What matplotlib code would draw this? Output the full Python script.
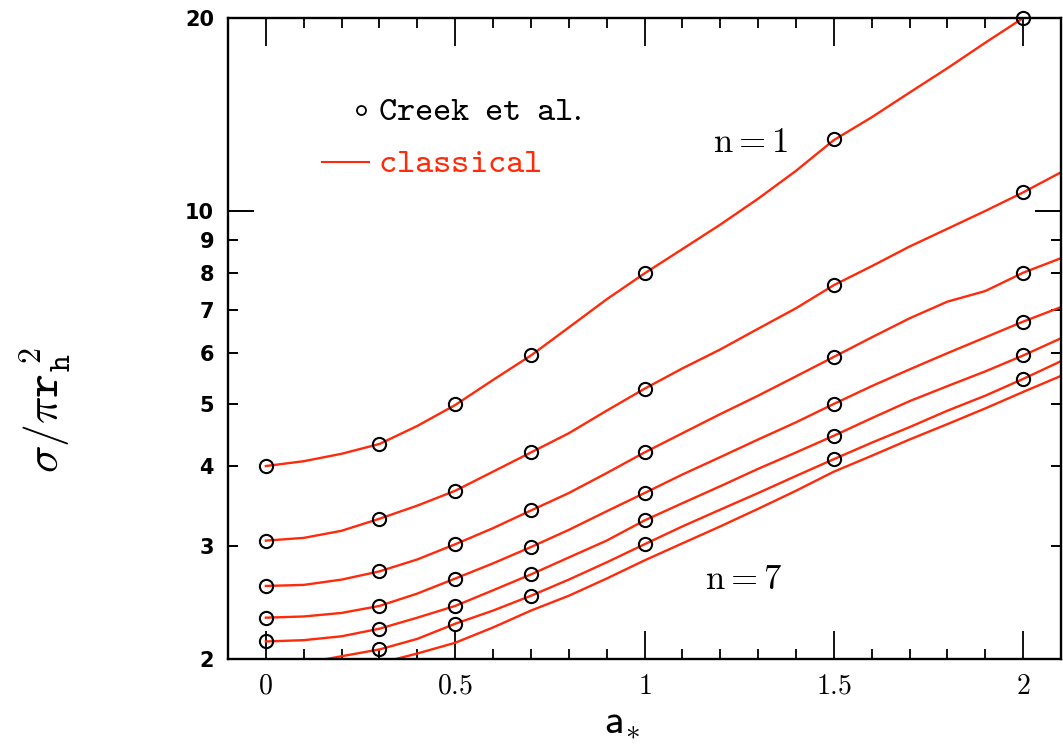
import numpy as np
import matplotlib
matplotlib.use("Agg")
import matplotlib.pyplot as plt
from matplotlib.ticker import FixedLocator, FixedFormatter, NullFormatter

plt.rcParams["mathtext.fontset"] = "cm"

# Spin parameter grid for the classical curves
a_grid = [0.0, 0.1, 0.2, 0.3, 0.4, 0.5, 0.6, 0.7, 0.8, 0.9, 1.0,
          1.1, 1.2, 1.3, 1.4, 1.5, 1.6, 1.7, 1.8, 1.9, 2.0, 2.1]

# Classical cross sections sigma/(pi r_h^2), one curve per n
classical_n1 = [4.00, 4.07, 4.18, 4.33, 4.62, 4.98, 5.45, 5.95, 6.58, 7.28, 7.99,
                8.72, 9.52, 10.45, 11.55, 12.9, 14.0, 15.3, 16.7, 18.3, 20.0, 21.8]
classical_n2 = [3.06, 3.09, 3.17, 3.31, 3.47, 3.66, 3.92, 4.20, 4.50, 4.88, 5.28,
                5.68, 6.08, 6.55, 7.05, 7.66, 8.20, 8.80, 9.38, 10.0, 10.69, 11.49]
classical_n3 = [2.60, 2.61, 2.66, 2.74, 2.86, 3.02, 3.20, 3.41, 3.63, 3.90, 4.20,
                4.50, 4.82, 5.15, 5.52, 5.92, 6.35, 6.80, 7.22, 7.50, 8.01, 8.44]
classical_n4 = [2.32, 2.33, 2.36, 2.42, 2.53, 2.67, 2.82, 2.99, 3.18, 3.40, 3.63,
                3.88, 4.13, 4.40, 4.68, 5.00, 5.33, 5.66, 6.00, 6.35, 6.72, 7.08]
classical_n5 = [2.13, 2.14, 2.17, 2.23, 2.32, 2.42, 2.56, 2.71, 2.88, 3.06, 3.29,
                3.50, 3.72, 3.96, 4.20, 4.46, 4.75, 5.05, 5.33, 5.62, 5.95, 6.33]
classical_n6 = [1.95, 1.97, 2.02, 2.07, 2.15, 2.27, 2.38, 2.51, 2.66, 2.83, 3.02,
                3.22, 3.42, 3.63, 3.86, 4.10, 4.35, 4.60, 4.88, 5.15, 5.47, 5.83]
classical_n7 = [1.88, 1.89, 1.92, 1.97, 2.04, 2.12, 2.24, 2.38, 2.51, 2.67, 2.85,
                3.03, 3.22, 3.43, 3.66, 3.92, 4.15, 4.40, 4.65, 4.92, 5.22, 5.53]

# Creek et al. values at selected spins
a_creek = [0.0, 0.3, 0.5, 0.7, 1.0, 1.5, 2.0]
creek_n1 = [4.00, 4.33, 5.00, 5.95, 7.99, 12.95, 20.0]
creek_n2 = [3.06, 3.31, 3.66, 4.20, 5.28, 7.66, 10.69]
creek_n3 = [2.60, 2.74, 3.02, 3.41, 4.20, 5.92, 8.01]
creek_n4 = [2.32, 2.42, 2.67, 2.99, 3.63, 5.00, 6.72]
creek_n5 = [2.13, 2.23, 2.42, 2.71, 3.29, 4.46, 5.95]
creek_n6 = [np.nan, 2.07, 2.27, 2.51, 3.02, 4.10, 5.47]

# Axis ticks
x_major = [0, 0.5, 1, 1.5, 2]
x_major_labels = ["$0$", "$0.5$", "$1$", "$1.5$", "$2$"]
x_minor = [-0.1, 0.1, 0.2, 0.3, 0.4, 0.6, 0.7, 0.8, 0.9, 1.1, 1.2, 1.3, 1.4,
           1.6, 1.7, 1.8, 1.9, 2.1]
y_major = [10]
y_major_labels = ["10"]
y_minor = [2, 3, 4, 5, 6, 7, 8, 9, 20]
y_minor_labels = ["2", "3", "4", "5", "6", "7", "8", "9", "20"]

RED = "#ff2a0a"

fig = plt.figure(figsize=(10.63, 7.46), dpi=100)
ax = fig.add_axes([228 / 1063, 87 / 746, 833 / 1063, 641 / 746])

classical = [classical_n1, classical_n2, classical_n3, classical_n4,
             classical_n5, classical_n6, classical_n7]
for curve in classical:
    ax.plot(a_grid, curve, color=RED, lw=1.7, zorder=2)

creek = [creek_n1, creek_n2, creek_n3, creek_n4, creek_n5, creek_n6]
for pts in creek:
    ax.plot(a_creek, pts, linestyle="none", marker="o", ms=9.5, mew=1.5,
            mfc="none", mec="black", zorder=3, clip_on=False)

ax.set_yscale("log")
ax.set_xlim(-0.1, 2.1)
ax.set_ylim(2, 20)

ax.xaxis.set_major_locator(FixedLocator(x_major))
ax.xaxis.set_major_formatter(FixedFormatter(x_major_labels))
ax.xaxis.set_minor_locator(FixedLocator(x_minor))
ax.xaxis.set_minor_formatter(NullFormatter())

ax.yaxis.set_major_locator(FixedLocator(y_major))
ax.yaxis.set_major_formatter(FixedFormatter(y_major_labels))
ax.yaxis.set_minor_locator(FixedLocator(y_minor))
ax.yaxis.set_minor_formatter(FixedFormatter(y_minor_labels))

ax.tick_params(which="both", direction="in", top=True, right=True, color="black")
ax.tick_params(axis="x", which="major", length=20, width=1.3, labelsize=20, pad=9)
ax.tick_params(axis="x", which="minor", length=7, width=1.3)
ax.tick_params(axis="y", which="major", length=19, width=1.4, labelsize=15, pad=10)
ax.tick_params(axis="y", which="minor", length=7, width=1.4, labelsize=15, pad=10)
for lab in ax.get_yticklabels(which="both"):
    lab.set_family("DejaVu Sans")
    lab.set_fontweight("bold")

for sp in ax.spines.values():
    sp.set_linewidth(1.7)

# Axis titles
fig.text(622 / 1063, 1 - 720 / 746, r"$\mathsf{a}_{*}$",
         ha="center", va="center", fontsize=30)
fig.text(45 / 1063, 1 - 410 / 746,
         r"$\sigma/\pi\mathtt{r}_{\mathtt{h}}^{\;\mathtt{2}}$",
         rotation=90, ha="center", va="center", fontsize=33)

# Legend drawn by hand
ax.plot([0.1597], [0.8565], transform=ax.transAxes, marker="o", ms=6.5,
        mew=1.3, mfc="none", mec="black", linestyle="none")
ax.text(0.180, 0.8565, r"$\mathtt{Creek}\enspace\mathtt{et}\enspace\mathtt{al.}$",
        transform=ax.transAxes, ha="left", va="center", fontsize=25, color="black")
ax.plot([0.1128, 0.1693], [0.7753, 0.7753], transform=ax.transAxes,
        color=RED, lw=1.5)
ax.text(0.180, 0.7753, r"$\mathtt{classical}$", transform=ax.transAxes,
        ha="left", va="center", fontsize=25, color=RED)

ax.text(0.6267, 0.8066, r"$\mathrm{n}=\mathrm{1}$", transform=ax.transAxes,
        ha="center", va="center", fontsize=25)
ax.text(0.6194, 0.1248, r"$\mathrm{n}=\mathrm{7}$", transform=ax.transAxes,
        ha="center", va="center", fontsize=25)

fig.savefig("out.png", dpi=100)
